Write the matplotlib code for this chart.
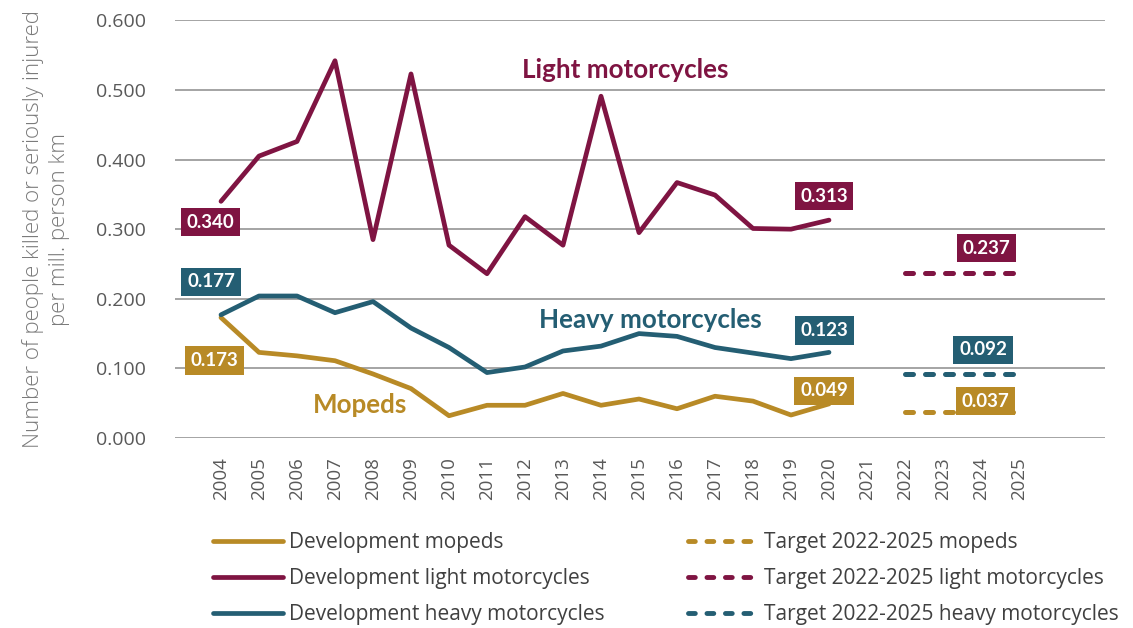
import numpy as np
import matplotlib
matplotlib.use("Agg")
import matplotlib.pyplot as plt
from matplotlib.lines import Line2D

years = ["2004", "2005", "2006", "2007", "2008", "2009", "2010", "2011", "2012",
         "2013", "2014", "2015", "2016", "2017", "2018", "2019", "2020", "2021",
         "2022", "2023", "2024", "2025"]

# development 2004-2020
light = [0.340, 0.405, 0.426, 0.542, 0.285, 0.523, 0.277, 0.236, 0.318,
         0.277, 0.491, 0.295, 0.367, 0.349, 0.301, 0.300, 0.313]
heavy = [0.177, 0.204, 0.204, 0.180, 0.196, 0.158, 0.130, 0.094, 0.102,
         0.125, 0.132, 0.150, 0.146, 0.130, 0.122, 0.114, 0.123]
mopeds = [0.173, 0.123, 0.118, 0.111, 0.092, 0.071, 0.032, 0.047, 0.047,
          0.064, 0.047, 0.056, 0.042, 0.060, 0.053, 0.033, 0.049]

# targets 2022-2025
target_years = ["2022", "2023", "2024", "2025"]
target_light = [0.237, 0.237, 0.237, 0.237]
target_heavy = [0.092, 0.092, 0.092, 0.092]
target_mopeds = [0.037, 0.037, 0.037, 0.037]

C_LIGHT = "#7F1442"
C_HEAVY = "#245E73"
C_MOPED = "#B88A26"
GRAY = "#595959"

plt.rcParams["font.family"] = ["Lato", "DejaVu Sans"]

fig = plt.figure(figsize=(11.33, 6.28), dpi=100)
ax = fig.add_axes([175 / 1133, 1 - 438 / 628, 930 / 1133, 418 / 628])

x = np.arange(len(years))
xd = x[:len(light)]
xt = np.array([years.index(y) for y in target_years])

solid = dict(lw=3.4, solid_capstyle="round", solid_joinstyle="round", zorder=3)
dashed = dict(lw=3.6, dashes=(1.6, 2.4), dash_capstyle="round", zorder=3)

ax.plot(xd, mopeds, color=C_MOPED, **solid)
ax.plot(xd, light, color=C_LIGHT, **solid)
ax.plot(xd, heavy, color=C_HEAVY, **solid)
ax.plot(xt, target_mopeds, color=C_MOPED, **dashed)
ax.plot(xt, target_light, color=C_LIGHT, **dashed)
ax.plot(xt, target_heavy, color=C_HEAVY, **dashed)

ax.set_xlim(-46 / 38, 884 / 38)
ax.set_ylim(0, 0.6005)
ax.set_yticks(np.arange(0, 0.61, 0.1))
ax.set_yticklabels([f"{v:.3f}" for v in np.arange(0, 0.61, 0.1)],
                   fontsize=14, color=GRAY, family="Open Sans")
ax.set_xticks(x)
ax.set_xticklabels(years, rotation=90, fontsize=13.5, color=GRAY, family="Open Sans")
ax.tick_params(axis="both", length=0)
ax.tick_params(axis="y", pad=21)
ax.tick_params(axis="x", pad=14)
ax.grid(axis="y", color="#8C8C8C", lw=1.1, zorder=0)
for s in ax.spines.values():
    s.set_visible(False)

ax.set_ylabel("Number of people killed or seriously injured\nper mill. person km",
              fontsize=16, color="#7A7A7A", family="Open Sans", fontweight="light",
              linespacing=1.3)
ax.yaxis.set_label_coords(-105 / 930, 0.5)


def tag(xi, v, color, dx, dy):
    ax.annotate(f"{v:.3f}", xy=(xi, v), xytext=(dx, dy), textcoords="offset pixels",
                ha="center", va="center", fontsize=13.5, fontweight="bold", color="white",
                bbox=dict(boxstyle="square,pad=0.3", fc=color, ec="none"), zorder=5)


tag(0, light[0], C_LIGHT, -11, -21)
tag(0, heavy[0], C_HEAVY, -10, 33)
tag(0, mopeds[0], C_MOPED, -7, -43)
tag(16, light[-1], C_LIGHT, -5, 24)
tag(16, heavy[-1], C_HEAVY, -5, 22)
tag(16, mopeds[-1], C_MOPED, -5, 13)
tag(xt[2], target_light[2], C_LIGHT, 5, 25)
tag(xt[2], target_heavy[2], C_HEAVY, 2, 24)
tag(xt[2], target_mopeds[2], C_MOPED, 4, 11)

ax.text((625 - 221) / 38, (438 - 70) / 697, "Light motorcycles", color=C_LIGHT,
        fontsize=18.7, fontweight="bold", ha="center", va="center")
ax.text((650 - 221) / 38, (438 - 320) / 697, "Heavy motorcycles", color=C_HEAVY,
        fontsize=18.7, fontweight="bold", ha="center", va="center")
ax.text((360 - 221) / 38, (438 - 405) / 697, "Mopeds", color=C_MOPED,
        fontsize=18.7, fontweight="bold", ha="center", va="center")

dev_handles = [Line2D([], [], color=c, lw=3.4, solid_capstyle="round")
               for c in (C_MOPED, C_LIGHT, C_HEAVY)]
tgt_handles = [Line2D([], [], color=c, lw=3.5, dashes=(1.4, 2.4), dash_capstyle="round")
               for c in (C_MOPED, C_LIGHT, C_HEAVY)]
dev_labels = ["Development mopeds", "Development light motorcycles",
              "Development heavy motorcycles"]
tgt_labels = ["Target 2022-2025 mopeds", "Target 2022-2025 light motorcycles",
              "Target 2022-2025 heavy motorcycles"]

leg_kw = dict(frameon=False, prop=dict(family="Open Sans", size=15), handlelength=3.35,
              handletextpad=0.3, labelspacing=0.72, borderaxespad=0, borderpad=0,
              labelcolor="#404040", loc="upper left")
fig.legend(dev_handles, dev_labels, bbox_to_anchor=(213 / 1133, 1 - 532 / 628), **leg_kw)
fig.legend(tgt_handles, tgt_labels, bbox_to_anchor=(688 / 1133, 1 - 532 / 628), **leg_kw)

fig.savefig("out.png", dpi=100)
